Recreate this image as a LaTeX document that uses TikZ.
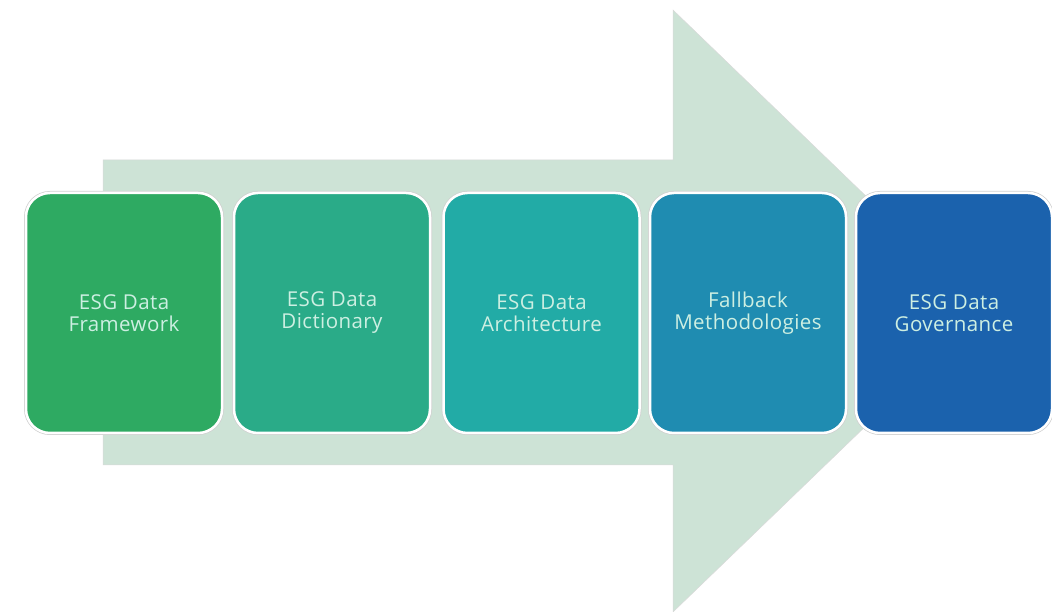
\documentclass[tikz,border=0pt]{standalone}
\usepackage{fontspec}
\setmainfont[LetterSpace=2]{Open Sans}
\definecolor{arrowfill}{HTML}{CDE3D6}
\definecolor{stageA}{HTML}{2EAA62}
\definecolor{stageB}{HTML}{2AAB88}
\definecolor{stageC}{HTML}{22ABA6}
\definecolor{stageD}{HTML}{1F8CB1}
\definecolor{stageE}{HTML}{1B62AD}
\definecolor{stagetext}{HTML}{CDEFE2}
\begin{document}
\begin{tikzpicture}[x=1pt,y=1pt,
  stage/.style={rounded corners=24pt, draw=white, line width=2.5pt,
    preaction={draw=black!18, line width=4pt},
    minimum width=196pt, minimum height=240pt, inner sep=0pt,
    align=center, text=stagetext, font=\fontsize{20.5}{22}\selectfont},
]
\useasboundingbox (0,0) rectangle (1052,612);
% background process arrow
\path[fill=arrowfill, draw=black!15, line width=0.5pt]
  (103,452) -- (673,452) -- (673,602) -- (985,301) -- (673,0)
  -- (673,147) -- (103,147) -- cycle;
% stages
\node[stage, fill=stageA] (s1) at (124,299) {ESG Data\\Framework};
\node[stage, fill=stageB] (s2) at (332,299) {ESG Data\\Dictionary};
\node[stage, fill=stageC] (s3) at (541.5,299) {ESG Data\\Architecture};
\node[stage, fill=stageD] (s4) at (748,299) {Fallback\\Methodologies};
\node[stage, fill=stageE] (s5) at (954,299) {ESG Data\\Governance};
\end{tikzpicture}
\end{document}
